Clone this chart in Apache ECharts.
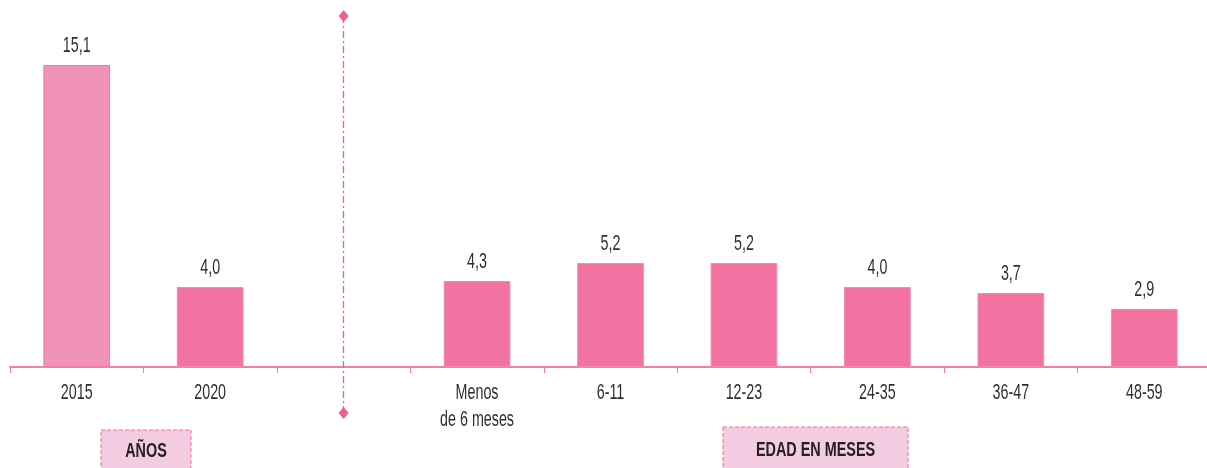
<!DOCTYPE html>
<html><head><meta charset="utf-8">
<script src="https://cdn.jsdelivr.net/npm/echarts@6/dist/echarts.min.js"></script>
<style>html,body{margin:0;padding:0;background:#fff}#c{width:1207px;height:468px}</style>
</head><body><div id="c"></div>
<script>
const categories = ['2015', '2020', '', 'Menos\nde 6 meses', '6-11', '12-23', '24-35', '36-47', '48-59'];
const values = [15.1, 4.0, null, 4.3, 5.2, 5.2, 4.0, 3.7, 2.9];
const groupLabels = ['AÑOS', 'EDAD EN MESES'];
const dividerIndex = 2;

const FONT = '"Liberation Sans", Arial, sans-serif';
const TEXT_SIZE = 22, TEXT_SCALE = 0.65;
const chart = echarts.init(document.getElementById('c'));
const data = values.map((v, i) => {
  if (v === null) return '-';
  if (i === 0) return { value: v, itemStyle: { color: '#F193B7', borderColor: '#F07AA7', borderWidth: 1 } };
  return v;
});
chart.setOption({
  animation: false,
  grid: { left: 10, width: 1201, top: 16, bottom: 55, outerBoundsMode: 'none', containLabel: false },
  xAxis: {
    type: 'category', data: categories,
    axisLine: { onZero: true, lineStyle: { color: '#F27EA9', width: 2 } },
    axisTick: { show: true, length: 6, lineStyle: { color: '#F27EA9', width: 1 } },
    axisLabel: { show: false }
  },
  yAxis: { type: 'value', min: -2.3, max: 17.55, show: false, splitLine: { show: false } },
  series: [{
    type: 'bar', data: data, barWidth: '50%',
    itemStyle: { color: '#F272A1', borderColor: '#F48AB1', borderWidth: 1 },
    label: { show: false },
    markLine: {
      silent: true, symbol: ['diamond', 'diamond'], symbolSize: [10, 12],
      label: { show: false },
      lineStyle: { color: '#EE5E95', type: [7, 3, 2, 3], width: 1.3, opacity: 1 },
      itemStyle: { color: '#F06A9C' },
      emphasis: { disabled: true },
      data: [{ xAxis: dividerIndex }]
    }
  }]
});

// Condensed text labels placed through the chart's own scales
const graphics = [];
function condensedText(x, y, text, size, scale, weight, color) {
  graphics.push({
    type: 'text', x: x, y: y, scaleX: scale, silent: true,
    style: { text: text, fill: color, font: weight + ' ' + size + 'px ' + FONT, align: 'center', verticalAlign: 'middle' }
  });
}
values.forEach((v, i) => {
  if (v === null) return;
  const p = chart.convertToPixel({ xAxisIndex: 0, yAxisIndex: 0 }, [i, v]);
  condensedText(p[0], p[1] - 19, v.toFixed(1).replace('.', ','), TEXT_SIZE, TEXT_SCALE, 'normal', '#2f2f2f');
});
categories.forEach((c, i) => {
  if (!c) return;
  const p = chart.convertToPixel({ xAxisIndex: 0, yAxisIndex: 0 }, [i, 0]);
  c.split('\n').forEach((line, k) => {
    condensedText(p[0], p[1] + 26 + k * 27, line, TEXT_SIZE, TEXT_SCALE, 'normal', '#2f2f2f');
  });
});
graphics.push(
  { type: 'rect', x: 101, y: 430, shape: { width: 90, height: 45 }, silent: true,
    style: { fill: '#F4CCE1', stroke: '#F06A9C', lineDash: [4, 2], lineWidth: 1 } },
  { type: 'rect', x: 723, y: 427, shape: { width: 185, height: 48 }, silent: true,
    style: { fill: '#F4CCE1', stroke: '#F06A9C', lineDash: [4, 2], lineWidth: 1 } }
);
condensedText(146, 451, groupLabels[0], 20, 0.72, 'bold', '#222');
condensedText(815.5, 450, groupLabels[1], 20, 0.72, 'bold', '#222');
chart.setOption({ graphic: graphics });
</script></body></html>
